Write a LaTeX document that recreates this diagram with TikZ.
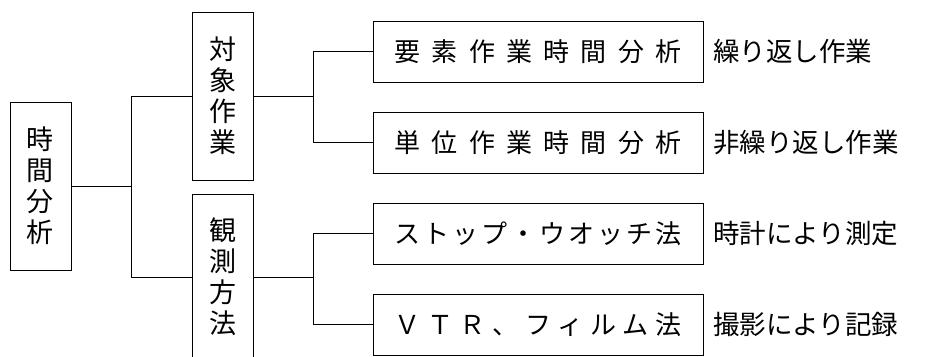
\documentclass[tikz,border=0pt]{standalone}
\usepackage{fontspec}
\newfontfamily\cjk{Noto Sans CJK JP}
\usetikzlibrary{calc}
\tikzstyle{tall} = [draw=black,line width=1pt,rectangle,minimum width=61pt,inner sep=0pt,align=center,font=\cjk\fontsize{27}{31}\selectfont]
\tikzstyle{wide} = [draw=black,line width=1pt,rectangle,minimum width=330pt,minimum height=61pt,inner sep=0pt,font=\cjk\fontsize{26}{30}\selectfont]
\tikzstyle{note} = [anchor=west,inner sep=0pt,font=\cjk\fontsize{26.5}{30}\selectfont]
\tikzstyle{edge} = [line width=1pt,draw=black]
\newcommand{\spreadtext}[1]{\makebox[287pt][s]{#1}}
\def\gp{\hfill}

\begin{document}
\begin{tikzpicture}[x=1pt,y=-1pt]
\useasboundingbox (0,0) rectangle (944,356);

\node[tall,minimum height=168pt] (T) at (40.5,186) {時\\間\\分\\析};
\node[tall,minimum height=168pt] (A) at (222.5,96) {対\\象\\作\\業};
\node[tall,minimum height=166pt] (K) at (222.5,277) {観\\測\\方\\法};

\node[wide] (B1) at (538,51.5) {\spreadtext{要\gp{}素\gp{}作\gp{}業\gp{}時\gp{}間\gp{}分\gp{}析}};
\node[wide] (B2) at (538,142.5) {\spreadtext{単\gp{}位\gp{}作\gp{}業\gp{}時\gp{}間\gp{}分\gp{}析}};
\node[wide] (B3) at (538,233.5) {\spreadtext{ス\gp{}ト\gp{}ッ\gp{}プ\gp{}・\gp{}ウ\gp{}オ\gp{}ッ\gp{}チ\gp{}法}};
\node[wide] (B4) at (538,324.5) {\spreadtext{Ｖ\gp{}Ｔ\gp{}Ｒ\gp{}、\gp{}フ\gp{}ィ\gp{}ル\gp{}ム\gp{}法}};

\node[note] (N1) at (713,51.5) {繰り返し作業};
\node[note] (N2) at (713,142.5) {非繰り返し作業};
\node[note] (N3) at (713,233.5) {時計により測定};
\node[note] (N4) at (713,324.5) {撮影により記録};

\coordinate (J0) at (131,186);
\coordinate (J1) at (313,96);
\coordinate (J2) at (313,277);

\draw[edge] (T) -- (J0);
\draw[edge] (J0) |- (A);
\draw[edge] (J0) |- (K);
\draw[edge] (A) -- (J1);
\draw[edge] (J1) |- (B1);
\draw[edge] (J1) |- (B2);
\draw[edge] (K) -- (J2);
\draw[edge] (J2) |- (B3);
\draw[edge] (J2) |- (B4);
\end{tikzpicture}
\end{document}
